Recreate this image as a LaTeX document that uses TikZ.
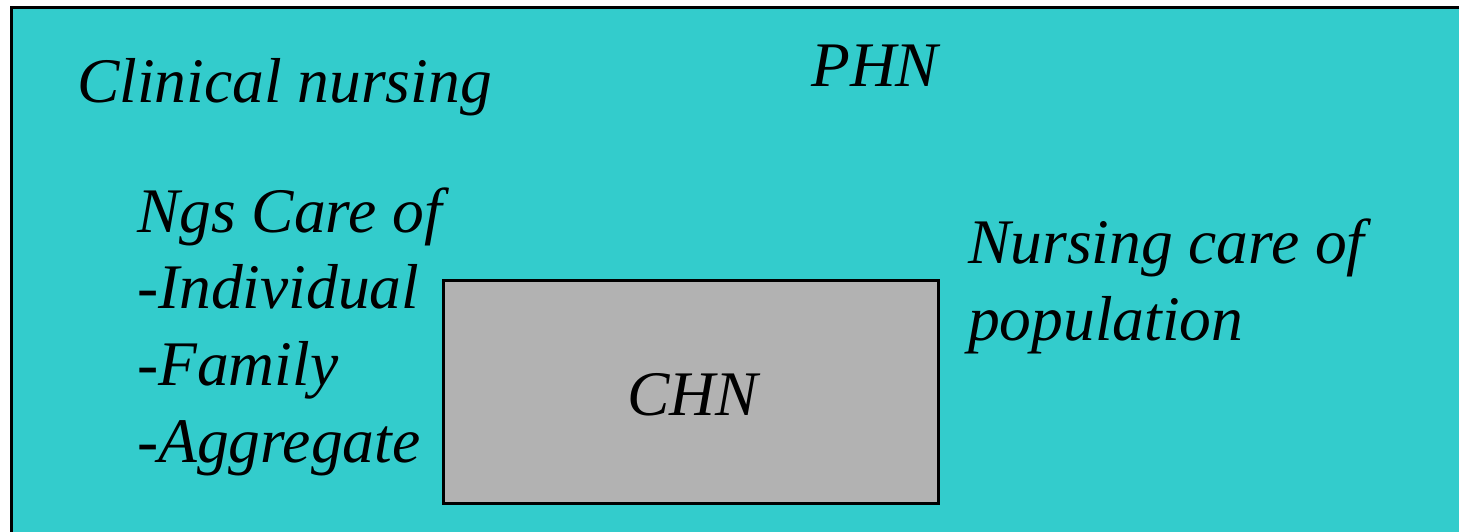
\documentclass[tikz,border=0pt]{standalone}
\usepackage{fontspec}
\setmainfont{Liberation Serif}
\definecolor{panelteal}{HTML}{33CCCC}
\definecolor{boxgray}{HTML}{B2B2B2}
\begin{document}
\begin{tikzpicture}[x=1pt,y=-1pt,
  label/.style={anchor=base west,inner sep=0pt,font=\fontsize{63.5}{77}\selectfont\itshape,text=black},
  frame/.style={draw=black,line width=3pt}]
\useasboundingbox (0,0) rectangle (1459,532);
\fill[white] (0,0) rectangle (1459,532);
% outer field
\draw[frame,fill=panelteal] (11,8) rectangle (1475,560);
% central box
\draw[frame,fill=boxgray] (443,280) rectangle (938,503);
\node[label] (clin) at (77,103) {Clinical nursing};
\node[label] (phn) at (811,87) {PHN};
\node[label] (ngs) at (137,232) {Ngs Care of};
\node[label] (ind) at (137,308) {-Individual};
\node[label] (fam) at (137,385) {-Family};
\node[label] (agg) at (137,462) {-Aggregate};
\node[label] (pop1) at (968,263) {Nursing care of};
\node[label] (pop2) at (968,340) {population};
\node[label] (chn) at (627,415) {CHN};
\end{tikzpicture}
\end{document}
